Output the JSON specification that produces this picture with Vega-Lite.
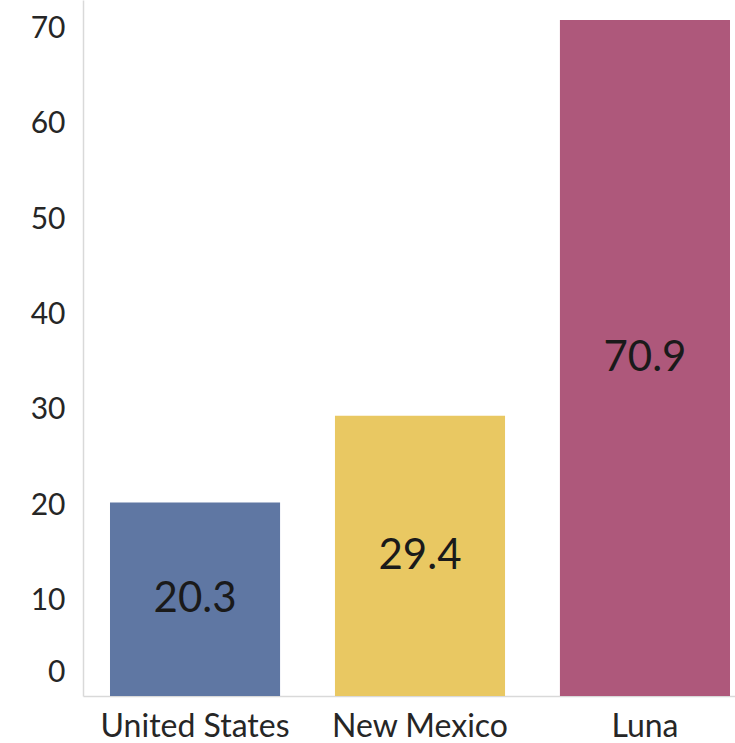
{
  "$schema": "https://vega.github.io/schema/vega-lite/v6.json",
  "autosize": {"type": "none"},
  "padding": {"left": 83, "top": 0, "right": 0, "bottom": 47},
  "width": 674,
  "height": 696,
  "background": "white",
  "config": {"view": {"stroke": null}, "font": "Lato"},
  "data": {
    "values": [
      {"area": "United States", "value": 20.3},
      {"area": "New Mexico", "value": 29.4},
      {"area": "Luna", "value": 70.9}
    ]
  },
  "encoding": {
    "x": {
      "field": "area", "type": "nominal", "sort": null,
      "scale": {"paddingInner": 0.244, "paddingOuter": 0.12},
      "axis": {"title": null, "labelAngle": 0, "ticks": false, "domainColor": "#d9d9d9", "domainWidth": 1.5,
               "labelFont": "Lato", "labelFontSize": 32, "labelColor": "#262626", "labelPadding": 15,
               "labelFontWeight": "normal", "labelLimit": 0}
    }
  },
  "layer": [
    {
      "mark": {"type": "bar"},
      "encoding": {
        "y": {
          "field": "value", "type": "quantitative",
          "scale": {"domain": [0, 73], "nice": false},
          "axis": {"title": null, "values": [0, 10, 20, 30, 40, 50, 60, 70], "grid": false, "ticks": false,
                   "domainColor": "#d9d9d9", "domainWidth": 1.5, "labelFont": "Lato", "labelFontSize": 30,
                   "labelColor": "#262626", "labelPadding": 18, "labelFlush": false, "labelOverlap": false,
                   "labelOffset": {"condition": {"test": "datum.value === 0", "value": -24}, "value": 0}}
        },
        "color": {
          "field": "area", "type": "nominal", "sort": null, "legend": null,
          "scale": {"domain": ["United States", "New Mexico", "Luna"], "range": ["#5f77a3", "#e9c862", "#ae587b"]}
        }
      }
    },
    {
      "transform": [{"calculate": "datum.value / 2", "as": "mid"}],
      "mark": {"type": "text", "font": "Lato", "fontSize": 42, "color": "#1a1a1a", "baseline": "middle", "align": "center"},
      "encoding": {
        "y": {"field": "mid", "type": "quantitative"},
        "text": {"field": "value", "type": "quantitative", "format": ".1f"}
      }
    }
  ]
}
